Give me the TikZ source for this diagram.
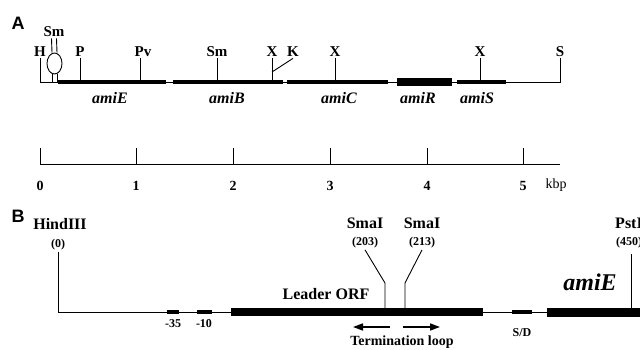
\documentclass[tikz,border=0pt]{standalone}
\usepackage{fontspec}
\setmainfont{Liberation Serif}
\newfontfamily\panelfont{Liberation Sans}
\usetikzlibrary{shapes.geometric,arrows.meta}
\tikzset{
    site/.style={inner sep=1pt, font=\fontsize{15}{15}\selectfont\bfseries},
    gene/.style={inner sep=1pt, font=\fontsize{16}{16}\selectfont\bfseries\itshape},
    panel/.style={inner sep=0pt, font=\fontsize{18}{18}\selectfont\panelfont\bfseries},
    num/.style={inner sep=0pt, font=\fontsize{14}{14}\selectfont\bfseries},
    enzyme/.style={inner sep=1pt, font=\fontsize{16}{16}\selectfont\bfseries},
    bplabel/.style={inner sep=1pt, font=\fontsize{12}{12}\selectfont\bfseries},
    orfbar/.style={line width=4.5pt},
    motif/.style={line width=4pt},
    loopar/.style={line width=1.6pt, -{Triangle[length=10pt,width=7pt]}}
}
\begin{document}
\begin{tikzpicture}[x=1pt, y=-1pt, line width=0.9pt]
        \useasboundingbox (0,0) rectangle (640,350);
        \node[panel] (A) at (18,23) {A};
        \node[site] (H) at (40,52) {H};
        \node[site] (Sm1) at (54,32) {Sm};
        \node[site] (P) at (80,52) {P};
        \node[site] (Pv) at (143,52) {Pv};
        \node[site] (Sm2) at (217,52) {Sm};
        \node[site] (X1) at (272,52) {X};
        \node[site] (K) at (293,52) {K};
        \node[site] (X2) at (335,52) {X};
        \node[site] (X3) at (480,52) {X};
        \node[site] (S) at (560,52) {S};
        \coordinate (h0) at (40,82);
        \coordinate (s0) at (560,82);
        \coordinate (st1) at (52,82);
        \coordinate (st2) at (57,82);
        \coordinate (k0) at (272,72);
        \draw (H.south) -- (h0) -- (s0) -- (S.south);
        \draw[orfbar] (58,82) -- (166,82);
        \draw[orfbar] (173,82) -- (283,82);
        \draw[orfbar] (287,82) -- (388,82);
        \draw[line width=8pt] (397,82.5) -- (452,82.5);
        \draw[orfbar] (457,82) -- (506,82);
        \draw (P.south) -- (80,82);
        \draw (140,58) -- (140,82);
        \draw (Sm2.south) -- (217,82);
        \draw (X1.south) -- (272,82);
        \draw (X2.south) -- (335,82);
        \draw (X3.south) -- (480,82);
        \draw (K.south) -- (k0);
        \node[draw, ellipse, fill=white, minimum width=15pt, minimum height=21pt, inner sep=0pt] (loop) at (54.5,63.5) {};
        \draw ([xshift=-2.5pt]Sm1.south) -- ([xshift=-2.5pt]loop.north);
        \draw ([xshift=2.5pt]Sm1.south) -- ([xshift=2.5pt]loop.north);
        \draw ([xshift=-2.5pt]loop.south) -- (st1);
        \draw ([xshift=2.5pt]loop.south) -- (st2);
        \node[gene] (gE) at (110,98) {amiE};
        \node[gene] (gB) at (227,98) {amiB};
        \node[gene] (gC) at (339,98) {amiC};
        \node[gene] (gR) at (418,98) {amiR};
        \node[gene] (gS) at (477,98) {amiS};
        \draw (40,164) -- (560,164);
        \foreach \k [count=\i from 0] in {40,136,233,330,427,523} {
            \draw (\k,148) -- (\k,164);
            \node[num] (t\i) at (\k,186) {\i};
        }
        \node[inner sep=0pt, font=\fontsize{14}{14}\selectfont] (kbp) at (556,185) {kbp};
        \node[panel] (B) at (18,216) {B};
        \node[enzyme] (hind) at (60,224) {HindIII};
        \node[bplabel] (n0) at (58,245) {(0)};
        \coordinate (b0) at (58,312);
        \coordinate (b1) at (547,312);
        \draw (n0.south) -- (b0) -- (b1);
        \draw[motif] (167,312) -- (179,312);
        \draw[motif] (197,312) -- (212,312);
        \node[bplabel] (m35) at (173,324) {-35};
        \node[bplabel] (m10) at (204,324) {-10};
        \draw[line width=8pt] (231,312) -- (483,312);
        \node[enzyme] (orf) at (326,294) {Leader ORF};
        \node[enzyme] (sma1) at (365,223) {SmaI};
        \node[bplabel] (n203) at (365,243) {(203)};
        \node[enzyme] (sma2) at (422,223) {SmaI};
        \node[bplabel] (n213) at (422,243) {(213)};
        \coordinate (a1) at (385,283);
        \coordinate (a2) at (385,308);
        \coordinate (c1) at (405,283);
        \coordinate (c2) at (405,308);
        \draw (n203.south) -- (a1) -- (a2);
        \draw (n213.south) -- (c1) -- (c2);
        \coordinate (l1) at (390,327);
        \coordinate (l2) at (353,327);
        \coordinate (r1) at (403,327);
        \coordinate (r2) at (440,327);
        \draw[loopar] (l1) -- (l2);
        \draw[loopar] (r1) -- (r2);
        \node[bplabel, font=\fontsize{14}{14}\selectfont\bfseries] (term) at (402,342) {Termination loop};
        \draw[motif] (512,312) -- (532,312);
        \node[bplabel] (sd) at (522,333) {S/D};
        \draw[line width=9pt] (547,312) -- (645,312);
        \node[inner sep=0pt, font=\fontsize{24}{24}\selectfont\bfseries\itshape] (big) at (590,282) {amiE};
        \node[enzyme] (pst) at (629,223) {PstI};
        \node[bplabel] (n450) at (629,243) {(450)};
        \coordinate (p1) at (631,308);
        \draw (n450.south -| p1) ++(0,4) -- (p1);
    \end{tikzpicture}
\end{document}
